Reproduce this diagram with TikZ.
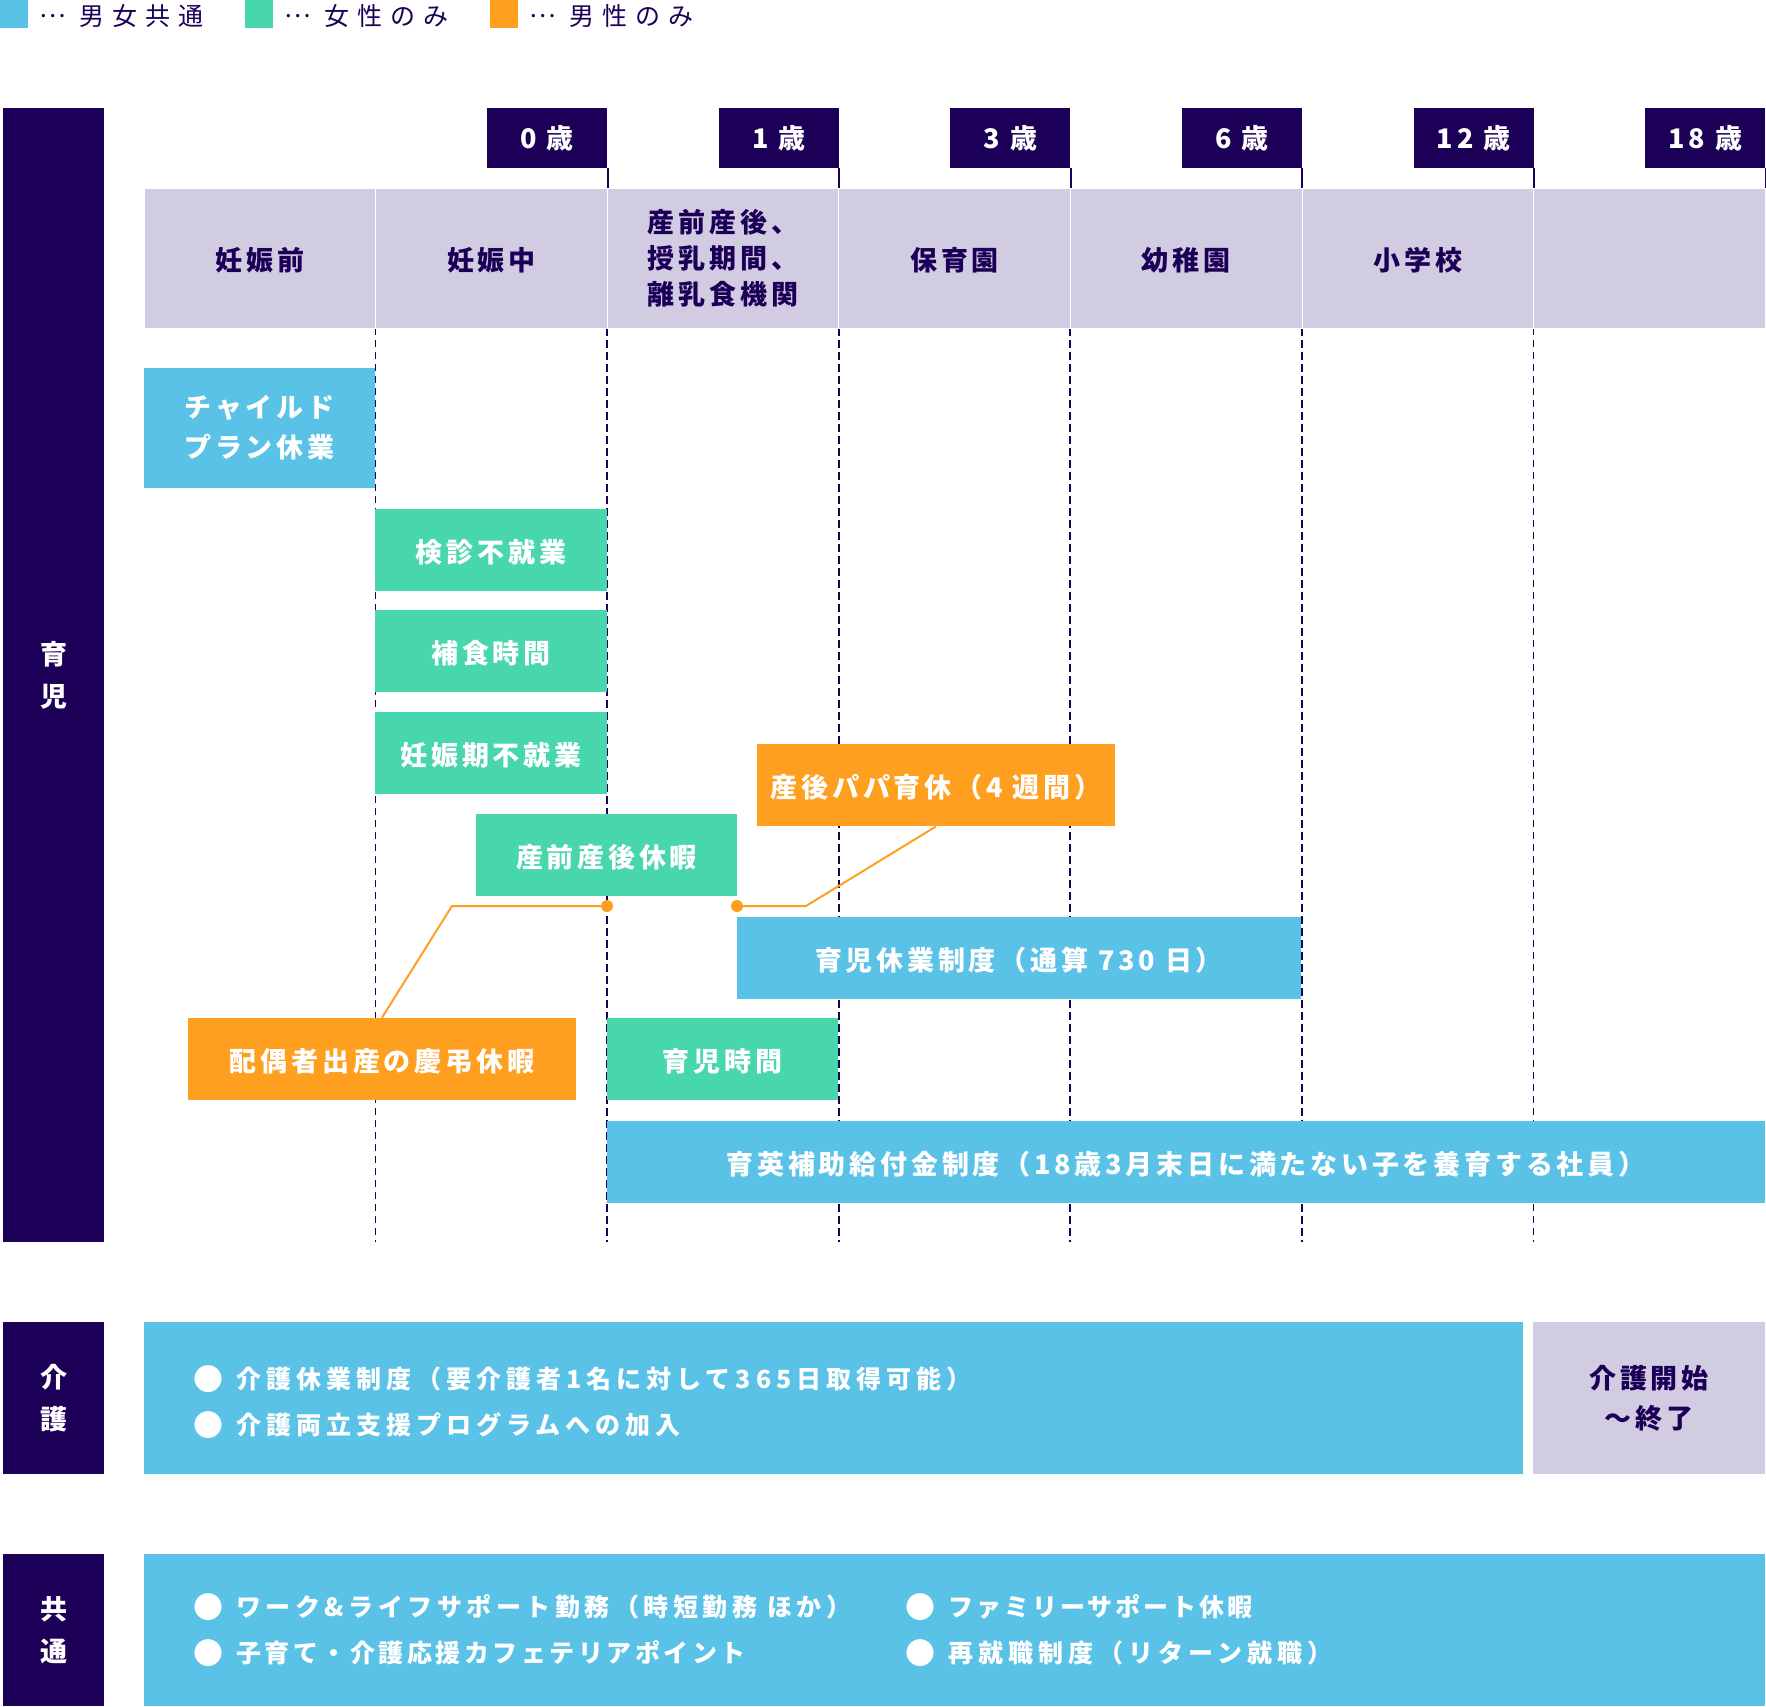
\documentclass[tikz,border=0pt]{standalone}
\usepackage{fontspec}
\setmainfont{Noto Sans CJK JP}
\newfontfamily\barfont{Noto Sans CJK JP}[LetterSpace=14]
\newfontfamily\listfont{Noto Sans CJK JP}[LetterSpace=20]
\newfontfamily\keyfont{Noto Sans CJK JP}[LetterSpace=32]

\definecolor{navy}{HTML}{1C0057}
\definecolor{lavender}{HTML}{D1CCE1}
\definecolor{skyblue}{HTML}{5BC2E7}
\definecolor{mint}{HTML}{48D6AC}
\definecolor{amber}{HTML}{FF9F1F}

\newcommand{\dotbullet}{{\fontsize{15pt}{15pt}\selectfont\raisebox{-1pt}{●}}\hspace{6.5pt}}
\newcommand{\keydots}{\raisebox{0.33em}[0pt][0pt]{…}\ }
\newcommand{\tighter}[1]{\addfontfeature{LetterSpace=#1}}

\tikzset{
  bar/.style={inner sep=0pt, text=white, align=center,
    font=\barfont\bfseries\fontsize{13.5pt}{20pt}\selectfont},
  lowtext/.style={execute at begin node={\rule{0pt}{1.05em}}},
  bluebar/.style={bar, lowtext, fill=skyblue},
  greenbar/.style={bar, lowtext, fill=mint},
  orangebar/.style={bar, lowtext, fill=amber},
  sidebar/.style={bar, fill=navy, minimum width=50.5pt,
    font=\barfont\bfseries\fontsize{13.5pt}{21pt}\selectfont},
  stage/.style={lowtext, fill=lavender, draw=white, line width=0.5pt,
    minimum width=115.8pt, minimum height=70pt, inner sep=0pt,
    text=navy, align=center,
    font=\barfont\bfseries\fontsize{13.5pt}{18pt}\selectfont},
  agetab/.style={bar, fill=navy, minimum width=60pt, minimum height=30pt},
  pole/.style={navy, line width=1pt},
  gridline/.style={navy, line width=1pt, dash pattern=on 4pt off 2pt},
  softgrid/.style={navy, line width=0.5pt, dash pattern=on 3.5pt off 2.5pt},
  link/.style={amber, line width=1pt},
  listline/.style={anchor=west, inner sep=0pt, text=white,
    font=\listfont\bfseries\fontsize{12.5pt}{15pt}\selectfont},
  keybox/.style={minimum size=14pt, inner sep=0pt},
  keytext/.style={anchor=west, inner sep=0pt, text=navy,
    font=\keyfont\fontsize{12.5pt}{15pt}\selectfont}
}

\begin{document}
\begin{tikzpicture}[x=0.5pt, y=-0.5pt]
\useasboundingbox (0,0) rectangle (1766,1707);

% legend
\node[keybox, fill=skyblue] (keyboth) at (14,14) {};
\node[keytext] (keybothtext) at (39,16) {\keydots 男女共通};
\node[keybox, fill=mint] (keywoman) at (259,14) {};
\node[keytext] (keywomantext) at (284,16) {\keydots 女性のみ};
\node[keybox, fill=amber] (keyman) at (504,14) {};
\node[keytext] (keymantext) at (529,16) {\keydots 男性のみ};

% side labels
\node[sidebar, minimum height=567pt] (ikujilabel) at (53.5,675) {育\\児};
\node[sidebar, minimum height=76pt] (kaigolabel) at (53.5,1398) {介\\護};
\node[sidebar, minimum height=76pt] (kyotsulabel) at (53.5,1630) {共\\通};

% grid
\foreach \i in {2,...,5}
  \draw[gridline] ({144+231.6*\i},328) -- ({144+231.6*\i},1242);
\foreach \i in {1,6}
  \draw[softgrid] ({144+231.6*\i},328) -- ({144+231.6*\i},1242);

% stages
\foreach \lbl [count=\i] in {妊娠前,妊娠中,{産前産後、\\授乳期間、\\離乳食機関},保育園,幼稚園,小学校,{}}
  \node[stage] (stage\i) at ({144+231.6*(\i-0.5)},258) {\lbl};

% ages
\foreach \age [count=\i from 2] in {0,1,3,6,12,18} {
  \node[agetab] (age\i) at ({144+231.6*\i-60},138) {\age\ 歳};
  \draw[pole] (age\i.south east) -- ++(0,20);
}

% childcare
\node[bluebar, minimum width=115.5pt, minimum height=60pt] (childplan) at (259.5,428) {チャイルド\\プラン休業};
\node[greenbar, minimum width=116pt, minimum height=41pt] (kenshin) at (491,549.5) {検診不就業};
\node[greenbar, minimum width=116pt, minimum height=41pt] (hoshoku) at (491,651) {補食時間};
\node[greenbar, minimum width=116pt, minimum height=41pt] (ninshin) at (491,753) {妊娠期不就業};
\node[greenbar, minimum width=130.5pt, minimum height=41pt] (sanzen) at (606.5,855) {産前産後休暇};
\node[orangebar, minimum width=179pt, minimum height=41pt] (papa) at (936,785) {産後パパ育休（4 週間）};
\node[bluebar, minimum width=282pt, minimum height=41pt] (ikukyu) at (1019,957.5) {育児休業制度（通算 730 日）};
\node[orangebar, minimum width=194pt, minimum height=41pt] (haigu) at (382,1059) {配偶者出産の慶弔休暇};
\node[greenbar, minimum width=115.5pt, minimum height=41pt] (ikujijikan) at (722.5,1059) {育児時間};
\node[bluebar, minimum width=579pt, minimum height=41pt] (ikuei) at (1186,1161.5) {育英補助給付金制度（18歳3月末日に満たない子を養育する社員）};

% links
\coordinate (birth) at (607,906);
\coordinate (papadot) at (737,906);
\draw[link] (haigu.north) -- (452,906) -- (birth);
\fill[amber] (birth) circle (3pt);
\draw[link] (papa.south) -- (806,906) -- (papadot);
\fill[amber] (papadot) circle (3pt);

% care
\node[bluebar, minimum width=689.5pt, minimum height=76pt] (kaigo) at (833.5,1398) {};
\node[bar, lowtext, fill=lavender, text=navy, minimum width=116pt, minimum height=76pt] (kaigospan) at (1649,1398) {介護開始\\〜終了};
\node[listline] (kaigo1) at (193,1379) {\dotbullet 介護休業制度（要介護者1名に対して365日取得可能）};
\node[listline] (kaigo2) at (193,1425) {\dotbullet 介護両立支援プログラムへの加入};

% common
\node[bluebar, minimum width=810.5pt, minimum height=76pt] (kyotsu) at (954.5,1630) {};
\node[listline] (kyotsu1) at (193,1607) {\dotbullet{\tighter{18}ワーク\&ライフサポート勤務（時短勤務 ほか）}};
\node[listline] (kyotsu2) at (193,1653) {\dotbullet{\tighter{14}子育て・介護応援カフェテリアポイント}};
\node[listline] (kyotsu3) at (905,1607) {\dotbullet{\tighter{12}ファミリーサポート休暇}};
\node[listline] (kyotsu4) at (905,1653) {\dotbullet 再就職制度（リターン就職）};
\end{tikzpicture}
\end{document}
